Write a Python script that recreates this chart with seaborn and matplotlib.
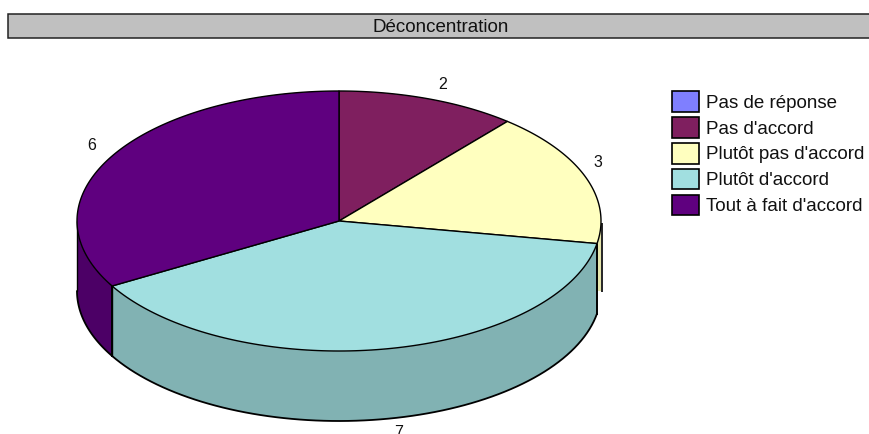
#!/usr/bin/env python3
"""Pseudo 3D pie chart of the "Déconcentration" survey answers."""

import matplotlib
matplotlib.use("Agg")
import matplotlib.pyplot as plt
from matplotlib.colors import to_rgb
from matplotlib.patches import Patch, Rectangle
import numpy as np
import seaborn as sns


TITLE = "Déconcentration"
CATEGORIES = ["Pas de réponse", "Pas d'accord", "Plutôt pas d'accord", "Plutôt d'accord", "Tout à fait d'accord"]
VALUES = [0, 2, 3, 7, 6]
COLORS = ["#7F7FFF", "#7F1F5F", "#FFFFBF", "#A1DFE0", "#5F007F"]
WALL_SHADES = [0.8, 0.8, 0.9, 0.8, 0.8]

# pie geometry, in pixels
CX, CY = 339, 221
RX, RY = 262, 130
DEPTH = 70
EDGE = "#000000"
LW = 1.0


def rim(angles):
    """Angles are clockwise degrees from 12 o'clock."""
    rad = np.radians(angles)
    return CX + RX * np.sin(rad), CY - RY * np.cos(rad)


def draw_wall(ax, start, end, color):
    lo, hi = max(start, 90), min(end, 270)
    if hi <= lo:
        return
    angles = np.linspace(lo, hi, 80)
    x, y = rim(angles)
    thin = hi - lo < 15
    # the very thin wall keeps a flat bottom in the original
    bottom = np.full_like(y, y.min() + DEPTH) if thin else y + DEPTH
    ax.fill(np.r_[x, x[::-1]], np.r_[y, bottom[::-1]], facecolor=color, edgecolor="none", zorder=2)
    if thin:
        return
    ax.plot(x, bottom, color=EDGE, lw=LW * 1.3, zorder=3, solid_capstyle="round")
    if lo > 90:
        ax.plot([x[0], x[0]], [y[0], y[0] + DEPTH + 1], color=EDGE, lw=LW * 1.4, zorder=3, solid_capstyle="butt")
    ax.plot([x[-1], x[-1]], [y[-1], y[-1] + DEPTH], color=EDGE, lw=LW, zorder=3, solid_capstyle="round")


def main() -> None:
    sns.set_theme(style="white")
    plt.rcParams["font.family"] = ["Liberation Sans", "DejaVu Sans"]

    fig = plt.figure(figsize=(8.69, 4.34), dpi=100)
    ax = fig.add_axes([0, 0, 1, 1])
    ax.set_xlim(0, 869)
    ax.set_ylim(434, 0)
    ax.axis("off")

    # title band runs off the right side
    ax.add_patch(Rectangle((7.5, 13.5), 880, 24.5, facecolor="#C0C0C0", edgecolor="#222222", lw=1.1, zorder=1))
    ax.text(441, 27, TITLE, ha="center", va="center", fontsize=13.5, color="#111111")

    edges = np.cumsum([0] + VALUES) / sum(VALUES) * 360
    wall_colors = [tuple(np.array(to_rgb(c)) * s) for c, s in zip(COLORS, WALL_SHADES)]

    for value, start, end, wall in zip(VALUES, edges[:-1], edges[1:], wall_colors):
        if value:
            draw_wall(ax, start, end, wall)

    # black sliver just right of the yellow wall
    ax.plot([CX + RX + 1.2] * 2, [CY + 2, CY + DEPTH + 1], color=EDGE, lw=1.2, zorder=3, solid_capstyle="butt")

    for value, start, end, color in zip(VALUES, edges[:-1], edges[1:], COLORS):
        if not value:
            continue
        x, y = rim(np.linspace(start, end, 120))
        ax.fill(np.r_[CX, x], np.r_[CY, y], facecolor=color, edgecolor=EDGE, lw=LW, joinstyle="round", zorder=4)

    # value labels sit outside the rim, small nudges to follow the original
    nudges = {2: (6, 4), 3: (-9, -7), 7: (10, 2), 6: (0, 0)}
    for value, start, end in zip(VALUES, edges[:-1], edges[1:]):
        if not value:
            continue
        rad = np.radians((start + end) / 2)
        lx = CX + 285 * np.sin(rad)
        ly = CY - 150 * np.cos(rad)
        if np.cos(rad) < 0:
            ly += DEPTH - 8
        dx, dy = nudges[value]
        ax.text(lx + dx, ly + dy, str(value), ha="center", va="center", fontsize=11.5, color="#111111", zorder=5)

    handles = [Patch(facecolor=c, edgecolor=EDGE, lw=1.2) for c in COLORS]
    ax.legend(
        handles,
        CATEGORIES,
        loc="upper left",
        bbox_to_anchor=(672 / 869, 1 - 91 / 434),
        frameon=False,
        fontsize=13.5,
        labelcolor="#111111",
        handlelength=1.45,
        handleheight=1.32,
        handletextpad=0.38,
        labelspacing=0.28,
        borderpad=0,
        borderaxespad=0,
    )

    fig.savefig("out.png", dpi=100)


if __name__ == "__main__":
    main()
